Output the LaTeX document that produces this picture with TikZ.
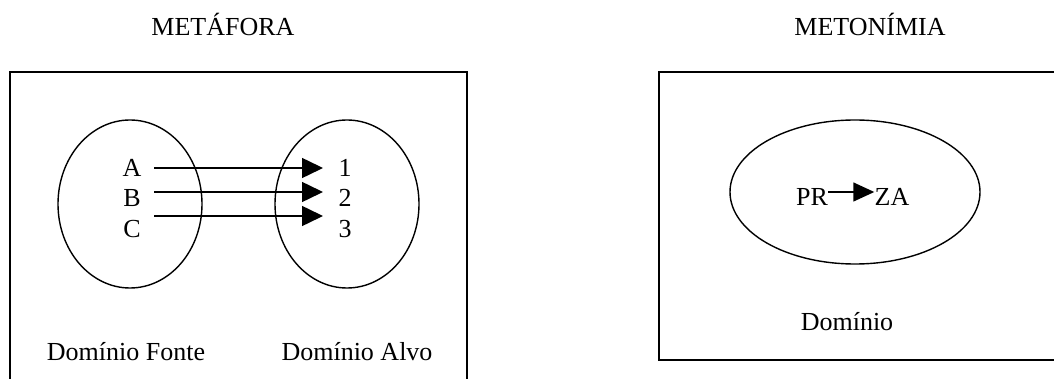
\documentclass[tikz,border=0pt]{standalone}
\usepackage{fontspec}
\setmainfont{Liberation Serif}
\usepackage{tikz}
\usetikzlibrary{arrows.meta,shapes.geometric}

\begin{document}
\begin{tikzpicture}[x=0.5pt, y=-0.5pt, font=\fontsize{13pt}{15pt}\selectfont,
    dom/.style={shape=ellipse, draw=black, line width=0.7pt, inner sep=0pt},
    seta/.style={line width=0.75pt, -{Triangle[length=10.5pt,width=10pt]}}]
     \clip (0,0) rectangle (1054,379);

     % titles
     \node (metafora)  at (223,24) {METÁFORA};
     \node (metonimia) at (870,24) {METONÍMIA};

     % boxes
     \draw[line width=1pt] (10,72) rectangle (467,420);
     \draw[line width=1pt] (659,72) rectangle (1080,360);

     % metaphor
     \node[dom, minimum width=72pt, minimum height=84pt] (fonte) at (130,204) {};
     \node[dom, minimum width=72pt, minimum height=84pt] (alvo)  at (347,204) {};

     \node[inner sep=0pt] (A) at (132,168) {A};
     \node[inner sep=0pt] (B) at (132,198) {B};
     \node[inner sep=0pt] (C) at (132,229) {C};
     \node[inner sep=0pt] (um)   at (345,168) {1};
     \node[inner sep=0pt] (dois) at (345,198) {2};
     \node[inner sep=0pt] (tres) at (345,229) {3};

     \coordinate (sA) at (154,168);  \coordinate (tA) at (323,168);
     \coordinate (sB) at (154,192);  \coordinate (tB) at (323,192);
     \coordinate (sC) at (154,216);  \coordinate (tC) at (323,216);

     \path (sA) edge[seta] (tA);
     \path (sB) edge[seta] (tB);
     \path (sC) edge[seta] (tC);

     \node (lfonte) at (126,352) {Domínio Fonte};
     \node (lalvo)  at (357,352) {Domínio Alvo};

     % metonymy
     \node[dom, minimum width=125pt, minimum height=72pt] (dominio) at (855,192) {};
     \node[inner sep=0pt] (PR) at (812,197) {PR};
     \node[inner sep=0pt] (ZA) at (892,197) {ZA};
     \path ([yshift=2.5pt]PR.east) edge[line width=0.75pt, -{Triangle[length=10.5pt,width=9.5pt]}] ([yshift=2.5pt]ZA.west);

     \node (ldominio) at (847,322) {Domínio};
    \end{tikzpicture}
\end{document}
